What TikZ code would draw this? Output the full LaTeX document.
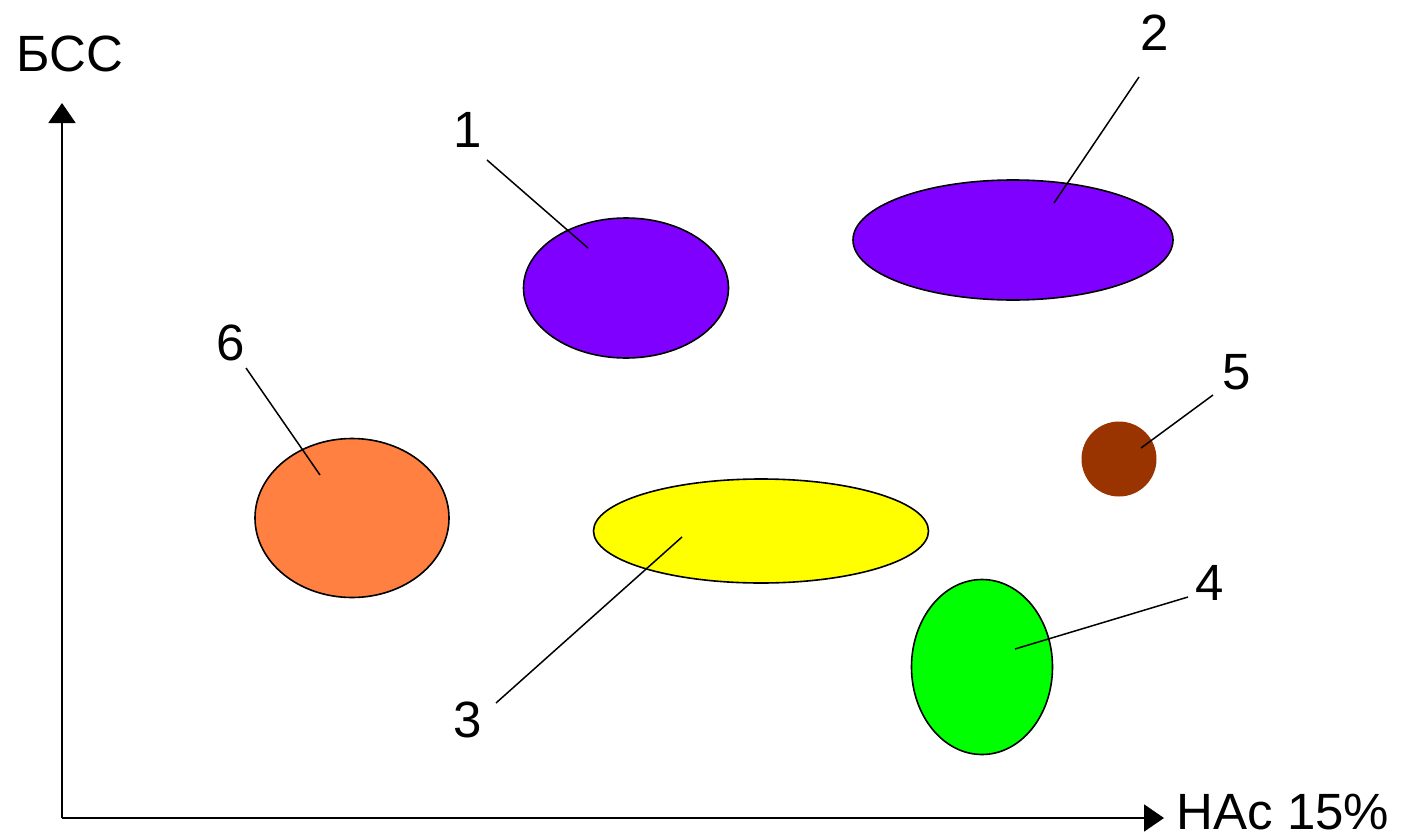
\documentclass[tikz,border=0pt]{standalone}
\usepackage{fontspec}
\setmainfont{Liberation Sans}
\usetikzlibrary{arrows.meta,shapes.geometric}
\definecolor{cpurple}{HTML}{8000FF}
\definecolor{cyellow}{HTML}{FFFF00}
\definecolor{cgreen}{HTML}{00FF00}
\definecolor{cbrown}{HTML}{993300}
\definecolor{corange}{HTML}{FF8040}
\begin{document}
\begin{tikzpicture}[x=1pt,y=-1pt,
  blob/.style={ellipse,draw=black,line width=1.6pt,inner sep=0pt},
  lbl/.style={inner sep=0pt,font=\fontsize{51}{51}\selectfont},
  leader/.style={line width=1.5pt},
  axis/.style={line width=2pt,-{Triangle[length=20pt,width=27pt]}}]
\useasboundingbox (0,0) rectangle (1401,838);
% axes
\coordinate (O) at (62,818);
\coordinate (ytip) at (62,103);
\coordinate (xtip) at (1164,818);
\draw[axis] (O) -- (ytip);
\draw[axis] (O) -- (xtip);
\node[lbl] (ylab) at (70,54) {БСС};
\node[lbl] (xlab) at (1283,812) {HAc 15\%};
% ellipses
\node[blob,fill=cpurple,minimum width=205pt,minimum height=140pt] (e1) at (626,288) {};
\node[blob,fill=cpurple,minimum width=320pt,minimum height=120pt] (e2) at (1013,240) {};
\node[blob,fill=cyellow,minimum width=335pt,minimum height=104pt] (e3) at (761,531) {};
\node[blob,fill=cgreen,minimum width=141pt,minimum height=175pt] (e4) at (982,667) {};
\node[ellipse,fill=cbrown,inner sep=0pt,minimum width=75pt,minimum height=75pt] (e5) at (1119,459) {};
\node[blob,fill=corange,minimum width=194pt,minimum height=159pt] (e6) at (352,518) {};
% labels
\node[lbl] (l1) at (468,130) {1};
\node[lbl] (l2) at (1155,33) {2};
\node[lbl] (l3) at (468,720) {3};
\node[lbl] (l4) at (1210,583) {4};
\node[lbl] (l5) at (1237,372) {5};
\node[lbl] (l6) at (231,343) {6};
% leader ends
\coordinate (a1) at (487,160); \coordinate (b1) at (588,248);
\coordinate (a2) at (1139,77);  \coordinate (b2) at (1054,203);
\coordinate (a3) at (496,703);  \coordinate (b3) at (682,537);
\coordinate (a4) at (1188,597); \coordinate (b4) at (1015,649);
\coordinate (a5) at (1213,395); \coordinate (b5) at (1141,448);
\coordinate (a6) at (246,368);  \coordinate (b6) at (320,475);
\foreach \i in {1,...,6} \draw[leader] (a\i) -- (b\i);
\end{tikzpicture}
\end{document}
